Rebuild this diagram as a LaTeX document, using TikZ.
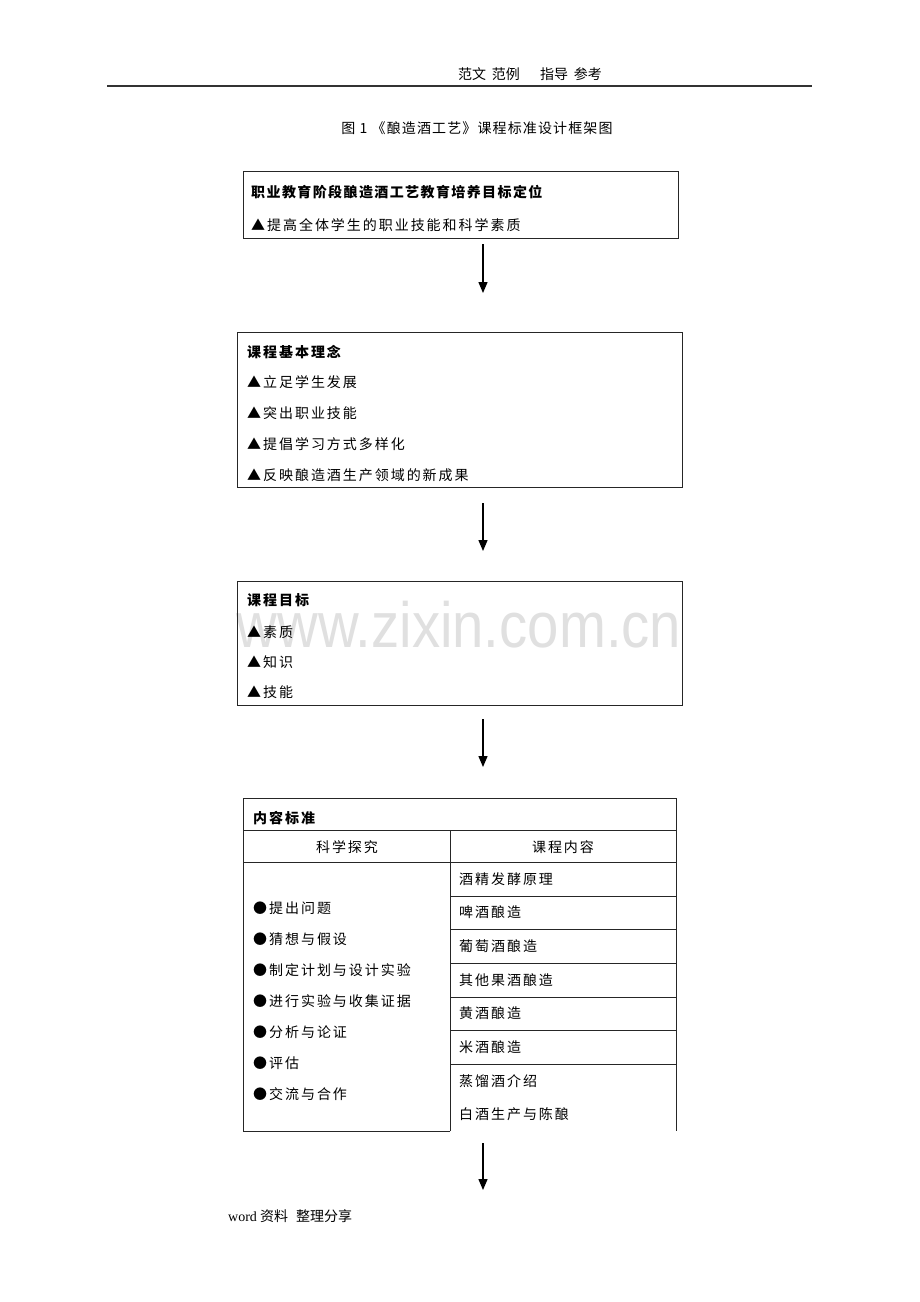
\documentclass[tikz,border=0pt]{standalone}
\usepackage{fontspec}
\usetikzlibrary{arrows.meta}
\setmainfont{Noto Sans CJK SC}
\newfontfamily\cjkls{Noto Sans CJK SC}[LetterSpace=14]
\newfontfamily\cjkmid{Noto Sans CJK SC}[LetterSpace=10]
\newfontfamily\cjkcap{Noto Sans CJK SC}[LetterSpace=8]
\newfontfamily\wmfont{Liberation Sans}
\newfontfamily\timesfont{Liberation Serif}
\tikzset{
  boxframe/.style={draw=black!85, line width=1pt, inner sep=0pt},
  itemtext/.style={anchor=west, inner sep=0pt, font=\cjkls\fontsize{14}{16}\selectfont},
  titletext/.style={anchor=west, inner sep=0pt, font=\cjkls\bfseries\fontsize{14}{16}\selectfont},
  centertext/.style={anchor=center, inner sep=0pt, font=\cjkls\fontsize{14}{16}\selectfont},
  flowarrow/.style={-{Triangle[length=11pt,width=9pt]}, line width=1.3pt, black},
  tableline/.style={draw=black!85, line width=1pt},
}
\begin{document}
\begin{tikzpicture}[x=1pt,y=-1pt]
\useasboundingbox (0,0) rectangle (920,1302);
\fill[white] (0,0) rectangle (920,1302);

% header
\node[anchor=center, inner sep=0pt, font=\fontsize{14}{16}\selectfont] (hdr) at (530,74) {范文\hspace{6pt}范例\hspace{20pt}指导\hspace{6pt}参考};
\coordinate (hl) at (107,86);
\coordinate (hr) at (812,86);
\draw[line width=1.6pt, black!80] (hl) -- (hr);

% caption
\node[anchor=center, inner sep=0pt, font=\cjkcap\fontsize{14}{16}\selectfont] (cap) at (477,128) {图 1 《酿造酒工艺》课程标准设计框架图};

% watermark
\node[anchor=base, inner sep=0pt, text=black!12, xscale=0.88, font=\wmfont\fontsize{64}{68}\selectfont] (wm) at (459,647) {www.zixin.com.cn};

% box 1
\node[boxframe, minimum width=435pt, minimum height=67pt] (b1) at (460.5,204.5) {};
\node[titletext, font=\cjkmid\bfseries\fontsize{14}{16}\selectfont] (b1t) at (251,192) {职业教育阶段酿造酒工艺教育培养目标定位};
\node[itemtext] (b1i) at (251,225) {▲提高全体学生的职业技能和科学素质};

\coordinate (a1s) at (483,244);
\coordinate (a1e) at (483,293);
\draw[flowarrow] (a1s) -- (a1e);

% box 2
\node[boxframe, minimum width=445pt, minimum height=155pt] (b2) at (459.5,409.5) {};
\node[titletext] (b2t) at (247,352) {课程基本理念};
\node[itemtext] (b2a) at (247,382) {▲立足学生发展};
\node[itemtext] (b2b) at (247,413) {▲突出职业技能};
\node[itemtext] (b2c) at (247,444) {▲提倡学习方式多样化};
\node[itemtext] (b2d) at (247,475) {▲反映酿造酒生产领域的新成果};

\coordinate (a2s) at (483,503);
\coordinate (a2e) at (483,551);
\draw[flowarrow] (a2s) -- (a2e);

% box 3
\node[boxframe, minimum width=445pt, minimum height=124pt] (b3) at (459.5,643) {};
\node[titletext] (b3t) at (247,600) {课程目标};
\node[itemtext] (b3a) at (247,632) {▲素质};
\node[itemtext] (b3b) at (247,662) {▲知识};
\node[itemtext] (b3c) at (247,692) {▲技能};

\coordinate (a3s) at (483,719);
\coordinate (a3e) at (483,767);
\draw[flowarrow] (a3s) -- (a3e);

% table
\coordinate (tl) at (243,798);
\coordinate (tr) at (676,798);
\coordinate (bl) at (243,1131);
\coordinate (bm) at (450,1131);
\coordinate (br) at (676,1131);
\draw[tableline] (bm) -- (bl) -- (tl) -- (tr) -- (br);
\draw[tableline] (243,830) -- (676,830);
\draw[tableline] (243,862) -- (676,862);
\draw[tableline] (450,830) -- (bm);
\foreach \yy in {896,929,963,997,1030,1064}{
  \draw[tableline] (450,\yy) -- (676,\yy);
}
\node[titletext] (tt) at (253,818) {内容标准};
\node[centertext] (th1) at (347,847) {科学探究};
\node[centertext] (th2) at (563,847) {课程内容};

\node[itemtext] (l1) at (253,908) {●提出问题};
\node[itemtext] (l2) at (253,939) {●猜想与假设};
\node[itemtext] (l3) at (253,970) {●制定计划与设计实验};
\node[itemtext] (l4) at (253,1001) {●进行实验与收集证据};
\node[itemtext] (l5) at (253,1032) {●分析与论证};
\node[itemtext] (l6) at (253,1063) {●评估};
\node[itemtext] (l7) at (253,1094) {●交流与合作};

\node[itemtext] (r1) at (459,879) {酒精发酵原理};
\node[itemtext] (r2) at (459,912) {啤酒酿造};
\node[itemtext] (r3) at (459,946) {葡萄酒酿造};
\node[itemtext] (r4) at (459,980) {其他果酒酿造};
\node[itemtext] (r5) at (459,1013) {黄酒酿造};
\node[itemtext] (r6) at (459,1047) {米酒酿造};
\node[itemtext] (r7) at (459,1081) {蒸馏酒介绍};
\node[itemtext] (r8) at (459,1114) {白酒生产与陈酿};

\coordinate (a4s) at (483,1143);
\coordinate (a4e) at (483,1190);
\draw[flowarrow] (a4s) -- (a4e);

% footer
\node[anchor=west, inner sep=0pt, font=\fontsize{14}{16}\selectfont] (ft) at (228,1216) {{\timesfont word} 资料\hspace{8pt}整理分享};
\end{tikzpicture}
\end{document}
